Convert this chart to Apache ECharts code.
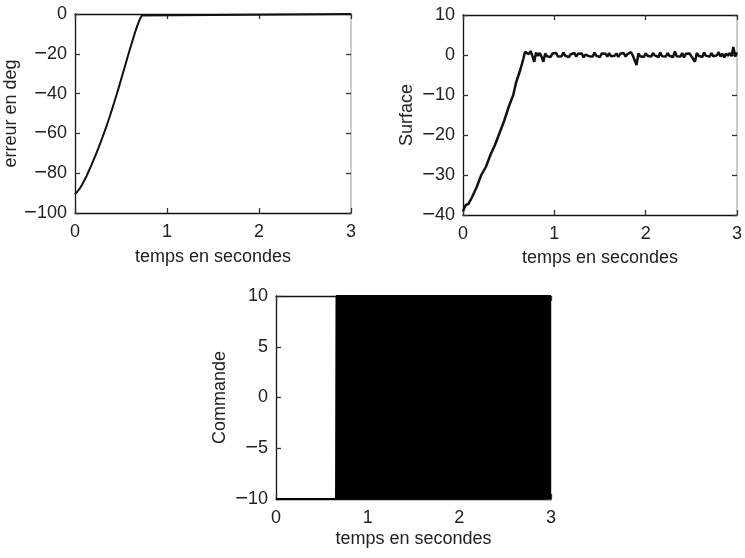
<!DOCTYPE html>
<html>
<head>
<meta charset="utf-8">
<style>
html,body{margin:0;padding:0;background:#fff;}
#c{width:745px;height:558px;}
</style>
<script src="https://cdn.jsdelivr.net/npm/echarts@6/dist/echarts.min.js"></script>
</head>
<body>
<div id="c"></div>
<script>
// ---- data ----
var errTime  = [0, 0.025, 0.05, 0.075, 0.1, 0.125, 0.15, 0.175, 0.2, 0.225, 0.25, 0.275, 0.3, 0.325, 0.35, 0.375,
  0.4, 0.425, 0.45, 0.475, 0.5, 0.525, 0.55, 0.575, 0.6, 0.625, 0.65, 0.675, 0.7, 0.725, 0.74, 3];
var errValue = [-90.5, -89.3, -87.8, -85.9, -83.8, -81.5, -78.9, -76.3, -73.6, -70.8, -67.9, -64.9, -61.8, -58.6, -55.3, -51.9,
  -48.3, -44.6, -40.8, -37.0, -33.0, -29.1, -25.1, -21.1, -17.2, -13.4, -9.7, -6.2, -3.1, -0.8, 0, 0];

var rampTime  = [0, 0.03, 0.06, 0.1, 0.15, 0.2, 0.22, 0.25, 0.3, 0.35, 0.4, 0.45, 0.5, 0.52, 0.55, 0.58, 0.6, 0.63, 0.66, 0.68];
var rampValue = [-39, -37.5, -37.2, -35.5, -33, -30, -29.5, -28, -25, -22.5, -19.5, -16.5, -13, -12.8, -10, -7, -6.5, -3.5, -1, 0.8];

var noiseTime = [
  0.70, 0.72, 0.74, 0.76, 0.78, 0.80, 0.82, 0.84, 0.86, 0.88,
  0.90, 0.92, 0.94, 0.96, 0.98, 1.00, 1.02, 1.04, 1.06, 1.08,
  1.10, 1.12, 1.14, 1.16, 1.18, 1.20, 1.22, 1.24, 1.26, 1.28,
  1.30, 1.32, 1.34, 1.36, 1.38, 1.40, 1.42, 1.44, 1.46, 1.48,
  1.50, 1.52, 1.54, 1.56, 1.58, 1.60, 1.62, 1.64, 1.66, 1.68,
  1.70, 1.72, 1.74, 1.76, 1.78, 1.80, 1.82, 1.84, 1.86, 1.88,
  1.90, 1.92, 1.94, 1.96, 1.98, 2.00, 2.02, 2.04, 2.06, 2.08,
  2.10, 2.12, 2.14, 2.16, 2.18, 2.20, 2.22, 2.24, 2.26, 2.28,
  2.30, 2.32, 2.34, 2.36, 2.38, 2.40, 2.42, 2.44, 2.46, 2.48,
  2.50, 2.52, 2.54, 2.56, 2.58, 2.60, 2.62, 2.64, 2.66, 2.68,
  2.70, 2.72, 2.74, 2.76, 2.78, 2.80, 2.82, 2.84, 2.86, 2.88,
  2.90, 2.92, 2.94, 2.96, 2.98, 3.00];
var noiseValue = [
  1.3, 0.2, 1.0, -0.3, -1.7, 0.6, -0.2, 0.5, -0.4, -1.7,
  0.4, -0.3, 0.2, -0.5, 0.4, -0.1, 0.5, -0.4, 0.1, -0.3,
  0.6, -0.2, 0.3, -0.5, 0.2, -0.1, 0.5, -0.4, 0.3, -0.2,
  0.4, -0.6, 0.1, 0.5, -0.3, 0.2, -0.4, 0.6, -0.2, 0.1,
  -0.5, 0.4, -0.1, 0.3, -0.4, 0.5, -0.3, 0.2, -0.2, 0.4,
  -0.5, 0.3, -0.1, 0.5, -0.4, 0.2, -0.3, 0.7, -0.2, 0.1,
  -2.5, 0.4, -0.3, 0.2, -0.5, 0.4, -0.2, 0.3, -0.4, 0.5,
  -0.1, 0.2, -0.5, 0.6, -0.3, 0.1, -0.4, 0.5, -0.2, 0.3,
  -0.5, 0.9, -0.3, 0.2, -0.4, 0.5, -0.6, 0.3, -0.1, 0.4,
  -0.3, 0.2, -1.7, 0.5, -0.2, 0.3, -0.5, 0.6, -0.2, 0.1,
  -0.4, 0.5, -0.3, 0.2, -0.1, 0.7, -0.4, 0.3, -0.6, 0.4,
  -0.2, 0.5, -0.3, 2.0, -0.4, 0.6];

// Commande: -10 until switching starts, then chattering between -10 and +10 (drawn as filled envelope)
var cmdTime  = [0, 0.655, 0.66, 3];
var cmdUpper = [-10, -10, 10, 10];

var yLabel1 = "erreur en deg", yLabel2 = "Surface", yLabel3 = "Commande";
var xLabel = "temps en secondes";

function pairs(xs, ys){ var out=[]; for(var i=0;i<xs.length;i++) out.push([xs[i], ys[i]]); return out; }

var FONT = "'Liberation Sans', Arial, Helvetica, sans-serif";
var TXT = '#222';
var FS = 18;
var fmt = function(v){ return v < 0 ? '{m|\u2212}' + String(-v) : String(v); };
var richM = {m:{fontSize:22, fontFamily:FONT, color:TXT}};

function axisPair(gi, ymin, ymax, yint, yname, xgap, ygap){
  var base = {
    axisLine:{show:true, onZero:false, lineStyle:{color:'#111', width:1.3}},
    axisTick:{show:true, inside:true, length:5, lineStyle:{color:'#333', width:1.3}},
    splitLine:{show:false}
  };
  var xs = [
    Object.assign({}, base, {type:'value', gridIndex:gi, position:'bottom', min:0, max:3, interval:1,
      name:xLabel, nameLocation:'middle', nameGap:xgap,
      nameTextStyle:{fontFamily:FONT, fontSize:FS, color:TXT},
      axisLabel:{show:true, margin:10, fontFamily:FONT, fontSize:FS, color:TXT, formatter:fmt, rich:richM}}),
    Object.assign({}, base, {type:'value', gridIndex:gi, position:'top', min:0, max:3, interval:1,
      axisLabel:{show:false}})
  ];
  var ys = [
    Object.assign({}, base, {type:'value', gridIndex:gi, position:'left', min:ymin, max:ymax, interval:yint,
      name:yname, nameLocation:'middle', nameGap:ygap,
      nameTextStyle:{fontFamily:FONT, fontSize:FS, color:TXT},
      axisLabel:{show:true, margin:8, fontFamily:FONT, fontSize:FS, color:TXT, formatter:fmt, rich:richM}}),
    Object.assign({}, base, {type:'value', gridIndex:gi, position:'right', min:ymin, max:ymax, interval:yint,
      axisLine:{show:true, onZero:false, lineStyle:{color:'#bbb', width:1.5}},
      axisLabel:{show:false}})
  ];
  return {xs:xs, ys:ys};
}

var a1 = axisPair(0, -100, 0, 20, yLabel1, 35, 51);
var a2 = axisPair(1, -40, 10, 10, yLabel2, 34, 47);
var a3 = axisPair(2, -10, 10, 5, yLabel3, 31, 47);

var option = {
  animation:false,
  backgroundColor:'#fff',
  grid:[
    {left:75, top:14, width:276, height:199},
    {left:463, top:15, width:278, height:200},
    {left:276, top:296, width:275, height:203}
  ],
  xAxis: a1.xs.concat(a2.xs, a3.xs),
  yAxis: a1.ys.concat(a2.ys, a3.ys),
  series:[
    {type:'line', xAxisIndex:0, yAxisIndex:0, data:pairs(errTime, errValue), showSymbol:false,
      lineStyle:{color:'#111', width:2}, z:5},
    {type:'line', xAxisIndex:2, yAxisIndex:2, data:pairs(rampTime.concat(noiseTime), rampValue.concat(noiseValue)), showSymbol:false,
      lineStyle:{color:'#111', width:2.5}, z:5},
    {type:'line', xAxisIndex:4, yAxisIndex:4, data:pairs(cmdTime, cmdUpper), showSymbol:false,
      lineStyle:{color:'#000', width:2}, areaStyle:{color:'#000', opacity:1, origin:'start'}, z:1}
  ]
};
var chart = echarts.init(document.getElementById('c'), null, {renderer:'canvas'});
chart.setOption(option);
</script>
</body>
</html>
